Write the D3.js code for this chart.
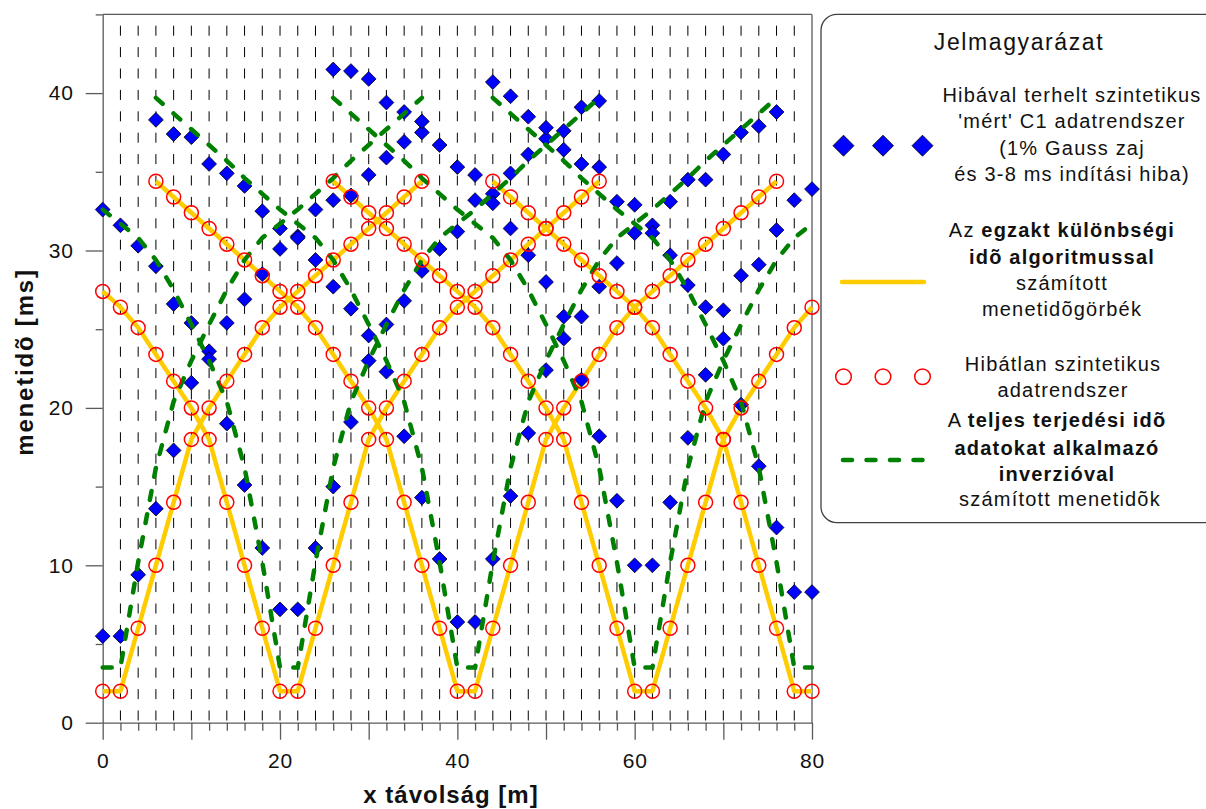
<!DOCTYPE html>
<html><head><meta charset="utf-8">
<script src="https://cdn.jsdelivr.net/npm/d3@7"></script>
<style>
body{margin:0;background:#fff}
svg{display:block}
text{font-family:"Liberation Sans",Arial,sans-serif;fill:#111}
</style>
</head><body>
<svg id="chart" width="1206" height="809"></svg>
<script>
// ---------------- DATA ----------------
// receiver positions per shot (m)
const xShot1  = [0,2,4,6,8,10,12,14,16,18,20,22,24,26,28,30,32,34,36];
const xShot21 = [0,2,4,6,8,10,12,14,16,18,20,22,24,26,28,30,32,34,36,38,40,42,44,46,48,50,52,54,56];
const xShot41 = [6,8,10,12,14,16,18,20,22,24,26,28,30,32,34,36,38,40,42,44,46,48,50,52,54,56,58,60,62,64,66,68,70,72,74,76];
const xShot61 = [26,28,30,32,34,36,38,40,42,44,46,48,50,52,54,56,58,60,62,64,66,68,70,72,74,76,78,80];
const xShot79 = [44,46,48,50,52,54,56,58,60,62,64,66,68,70,72,74,76,78,80];

// error-free synthetic data (red circles / yellow curves), ms
const exactShot1  = [2,2,6,10,14,18,20,21.7,23.4,25.1,26.4,27.4,28.4,29.4,30.4,31.4,32.4,33.4,34.4];
const exactShot21 = [27.4,26.4,25.1,23.4,21.7,20,18,14,10,6,2,2,6,10,14,18,20,21.7,23.4,25.1,26.4,27.4,28.4,29.4,30.4,31.4,32.4,33.4,34.4];
const exactShot41 = [34.4,33.4,32.4,31.4,30.4,29.4,28.4,27.4,26.4,25.1,23.4,21.7,20,18,14,10,6,2,2,6,10,14,18,20,21.7,23.4,25.1,26.4,27.4,28.4,29.4,30.4,31.4,32.4,33.4,34.4];
const exactShot61 = [34.4,33.4,32.4,31.4,30.4,29.4,28.4,27.4,26.4,25.1,23.4,21.7,20,18,14,10,6,2,2,6,10,14,18,20,21.7,23.4,25.1,26.4];
const exactShot79 = [34.4,33.4,32.4,31.4,30.4,29.4,28.4,27.4,26.4,25.1,23.4,21.7,20,18,14,10,6,2,2];

// noisy 'measured' data (blue diamonds), ms
const noisyShot1  = [5.5,5.5,9.4,13.6,17.3,21.6,23.6,25.4,26.9,28.5,30.1,30.9,32.6,33.2,33.5,34.8,35.9,36.9,37.5];
const noisyShot21 = [32.6,31.6,30.3,29.0,26.6,25.4,23.1,19.0,15.1,11.1,7.2,7.2,11.1,15.0,19.1,23.0,25.3,26.8,28.7,30.1,31.2,33.2,33.6,34.9,36.1,37.1,37.6,39.1,39.5];
const noisyShot41 = [38.3,37.4,37.2,35.5,34.9,34.1,32.5,31.4,30.8,29.4,27.7,26.3,24.6,22.3,18.2,14.3,10.4,6.4,6.4,10.4,14.4,18.4,22.4,24.4,25.8,27.7,29.2,31.1,31.6,33.1,34.5,34.5,36.1,37.5,37.9,38.8];
const noisyShot61 = [41.5,41.4,40.9,39.4,38.8,38.2,36.7,35.3,34.8,33.0,31.4,29.7,28.0,25.8,21.8,18.2,14.1,10.0,10.0,14.0,18.1,22.1,26.2,28.4,29.1,31.3,33.2,33.9];
const noisyShot79 = [40.7,39.8,38.5,37.8,36.4,35.5,35.3,33.1,32.9,31.1,29.7,27.8,26.4,24.4,20.2,16.3,12.4,8.3,8.3];

// travel times computed with the inversion (green dashed), ms
const invShot1  = [3.5,3.5,10.2,16.2,20.4,23.0,25.3,27.5,29.4,30.8,31.7,32.6,33.6,34.6,35.7,36.7,37.7,38.7,39.7];
const invShot21 = [32.6,31.7,30.8,29.4,27.5,25.3,23.0,20.4,16.2,10.2,3.5,3.5,10.2,16.2,20.4,23.0,25.3,27.5,29.4,30.8,31.7,32.6,33.6,34.6,35.7,36.7,37.7,38.7,39.7];
const invShot41 = [39.7,38.7,37.7,36.7,35.7,34.6,33.6,32.6,31.7,30.8,29.4,27.5,25.3,23.0,20.4,16.2,10.2,3.5,3.5,10.2,16.2,20.4,23.0,25.3,27.5,29.4,30.8,31.7,32.6,33.6,34.6,35.7,36.7,37.7,38.7,39.7];
const invShot61 = [39.7,38.7,37.7,36.7,35.7,34.6,33.6,32.6,31.7,30.8,29.4,27.5,25.3,23.0,20.4,16.2,10.2,3.5,3.5,10.2,16.2,20.4,23.0,25.3,27.5,29.4,30.8,31.7];
const invShot79 = [39.7,38.7,37.7,36.7,35.7,34.6,33.6,32.6,31.7,30.8,29.4,27.5,25.3,23.0,20.4,16.2,10.2,3.5,3.5];

// axis ticks
const xTickLabels = [0,20,40,60,80];
const yTickLabels = [0,10,20,30,40];

const shots = [
  {x:xShot1,  exact:exactShot1,  noisy:noisyShot1,  inv:invShot1},
  {x:xShot21, exact:exactShot21, noisy:noisyShot21, inv:invShot21},
  {x:xShot41, exact:exactShot41, noisy:noisyShot41, inv:invShot41},
  {x:xShot61, exact:exactShot61, noisy:noisyShot61, inv:invShot61},
  {x:xShot79, exact:exactShot79, noisy:noisyShot79, inv:invShot79}
];

// ---------------- DRAW ----------------
const svg = d3.select("#chart");
const X0 = 102.7, X1 = 812, Y0 = 722.7, Y1 = 14.4;
const x = d3.scaleLinear().domain([0,80]).range([X0,X1]);
const y = d3.scaleLinear().domain([0,45]).range([Y0,Y1]);
const axisColor = "#5a5a5a";

// vertical dashed grid
svg.append("g").selectAll("line").data(d3.range(2,79,2)).join("line")
  .attr("x1",d=>x(d)).attr("x2",d=>x(d)).attr("y1",y(45)).attr("y2",y(0))
  .attr("stroke","#000").attr("stroke-width",1)
  .attr("stroke-dasharray","10 11.4").attr("stroke-dashoffset",10.1);

// axes
const xAxis = d3.axisBottom(x).tickValues(d3.range(0,81,2)).tickSize(8).tickSizeOuter(0)
  .tickPadding(22).tickFormat(d => xTickLabels.includes(d) ? d : "");
const gx = svg.append("g").attr("transform",`translate(0,${Y0})`).call(xAxis);
gx.selectAll(".tick line").filter(d=>d%10===0).attr("y2",17);
const yAxis = d3.axisLeft(y).tickValues(d3.range(0,46,5)).tickSize(7).tickSizeOuter(0)
  .tickPadding(22).tickFormat(d => yTickLabels.includes(d) ? d : "");
const gy = svg.append("g").attr("transform",`translate(${X0},0)`).call(yAxis);
gy.selectAll(".tick line").filter(d=>d%10===0).attr("x2",-17);
[gx,gy].forEach(g=>{
  g.selectAll("path,line").attr("stroke",axisColor).attr("stroke-width",1.3);
  g.selectAll("text").attr("font-size",21).attr("letter-spacing","0.8px").attr("fill","#111")
   .style("font-family",'"Liberation Sans",Arial,sans-serif');
});
// frame top / right
svg.append("line").attr("x1",x(0)).attr("x2",x(80)).attr("y1",y(45)).attr("y2",y(45))
  .attr("stroke",axisColor).attr("stroke-width",1.3);
svg.append("line").attr("x1",x(80)).attr("x2",x(80)).attr("y1",y(45)).attr("y2",y(0))
  .attr("stroke",axisColor).attr("stroke-width",1.3);

// axis titles
svg.append("text").attr("x",451).attr("y",803).attr("text-anchor","middle")
  .attr("font-size",24).attr("font-weight","bold").attr("letter-spacing","1px")
  .text("x távolság [m]");
svg.append("text").attr("transform",`translate(33,362) rotate(-90)`).attr("text-anchor","middle")
  .attr("font-size",24).attr("font-weight","bold").attr("letter-spacing","1.8px")
  .text("menetidõ [ms]");

const line = d3.line().x(d=>x(d[0])).y(d=>y(d[1]));

// yellow exact curves
svg.append("g").selectAll("path").data(shots).join("path")
  .attr("d",s=>line(s.x.map((v,i)=>[v,s.exact[i]])))
  .attr("fill","none").attr("stroke","#FFCC00").attr("stroke-width",4.5)
  .attr("stroke-linejoin","round");

// blue diamonds
const noisyPts = shots.flatMap(s=>s.x.map((v,i)=>[v,s.noisy[i]]));
const dsize = 7.4;
svg.append("g").selectAll("path").data(noisyPts).join("path")
  .attr("d",d=>`M${x(d[0])},${y(d[1])-dsize}L${x(d[0])+dsize},${y(d[1])}L${x(d[0])},${y(d[1])+dsize}L${x(d[0])-dsize},${y(d[1])}Z`)
  .attr("fill","#0000FF").attr("stroke","#000").attr("stroke-width",0.8);

// green inversion curves
svg.append("g").selectAll("path").data(shots).join("path")
  .attr("d",s=>line(s.x.map((v,i)=>[v,s.inv[i]])))
  .attr("fill","none").attr("stroke","#008000").attr("stroke-width",4.5)
  .attr("stroke-dasharray","9 14.5").attr("stroke-linecap","round");

// red circles
const exactPts = shots.flatMap(s=>s.x.map((v,i)=>[v,s.exact[i]]));
svg.append("g").selectAll("circle").data(exactPts).join("circle")
  .attr("cx",d=>x(d[0])).attr("cy",d=>y(d[1])).attr("r",7)
  .attr("fill","none").attr("stroke","#FF0000").attr("stroke-width",1.5);

// ---------------- LEGEND ----------------
const lg = svg.append("g");
lg.append("rect").attr("x",821).attr("y",14.3).attr("width",420).attr("height",508.4)
  .attr("rx",16).attr("fill","#fff").attr("stroke","#404040").attr("stroke-width",1.3);
lg.append("text").attr("x",1019).attr("y",50).attr("text-anchor","middle")
  .attr("font-size",23).attr("letter-spacing","1.6px").text("Jelmagyarázat");

const legendMarkX = [843.5,883,922.5];
lg.selectAll(".ld").data(legendMarkX).join("path").attr("class","ld")
  .attr("d",d=>`M${d},${145.7-10.5}L${d+10.5},145.7L${d},${145.7+10.5}L${d-10.5},145.7Z`)
  .attr("fill","#0000FF").attr("stroke","#000").attr("stroke-width",0.8);
lg.append("line").attr("x1",842).attr("x2",924).attr("y1",282).attr("y2",282)
  .attr("stroke","#FFCC00").attr("stroke-width",4.5).attr("stroke-linecap","round");
lg.selectAll(".lc").data(legendMarkX).join("circle").attr("class","lc")
  .attr("cx",d=>d).attr("cy",376.7).attr("r",7.8)
  .attr("fill","none").attr("stroke","#FF0000").attr("stroke-width",1.5);
lg.append("line").attr("x1",843).attr("x2",924).attr("y1",460).attr("y2",460)
  .attr("stroke","#008000").attr("stroke-width",4.5)
  .attr("stroke-dasharray","9 14.5").attr("stroke-linecap","round");

const legendLines = [
  {cx:1072, y:101.7, parts:[["Hibával terhelt szintetikus",0]]},
  {cx:1072, y:128.3, parts:[["'mért' C1 adatrendszer",0]]},
  {cx:1072, y:154.5, parts:[["(1% Gauss zaj",0]]},
  {cx:1072, y:180.5, parts:[["és 3-8 ms indítási hiba)",0]]},
  {cx:1062, y:237.3, parts:[["Az ",0],["egzakt különbségi",1]]},
  {cx:1062, y:263.5, parts:[["idõ algoritmussal",1]]},
  {cx:1062, y:289.8, parts:[["számított",0]]},
  {cx:1062, y:315.5, parts:[["menetidõgörbék",0]]},
  {cx:1063, y:370.7, parts:[["Hibátlan szintetikus",0]]},
  {cx:1063, y:396.7, parts:[["adatrendszer",0]]},
  {cx:1057, y:427.3, parts:[["A ",0],["teljes terjedési idõ",1]]},
  {cx:1057, y:454.5, parts:[["adatokat alkalmazó",1]]},
  {cx:1057, y:480.5, parts:[["inverzióval",1]]},
  {cx:1060, y:506.3, parts:[["számított menetidõk",0]]}
];
legendLines.forEach(l=>{
  const t = lg.append("text").attr("x",l.cx).attr("y",l.y).attr("text-anchor","middle")
    .attr("font-size",20).attr("letter-spacing","1.2px");
  l.parts.forEach(p=>t.append("tspan").attr("font-weight",p[1]?"bold":"normal").text(p[0]));
});
</script>
</body></html>
